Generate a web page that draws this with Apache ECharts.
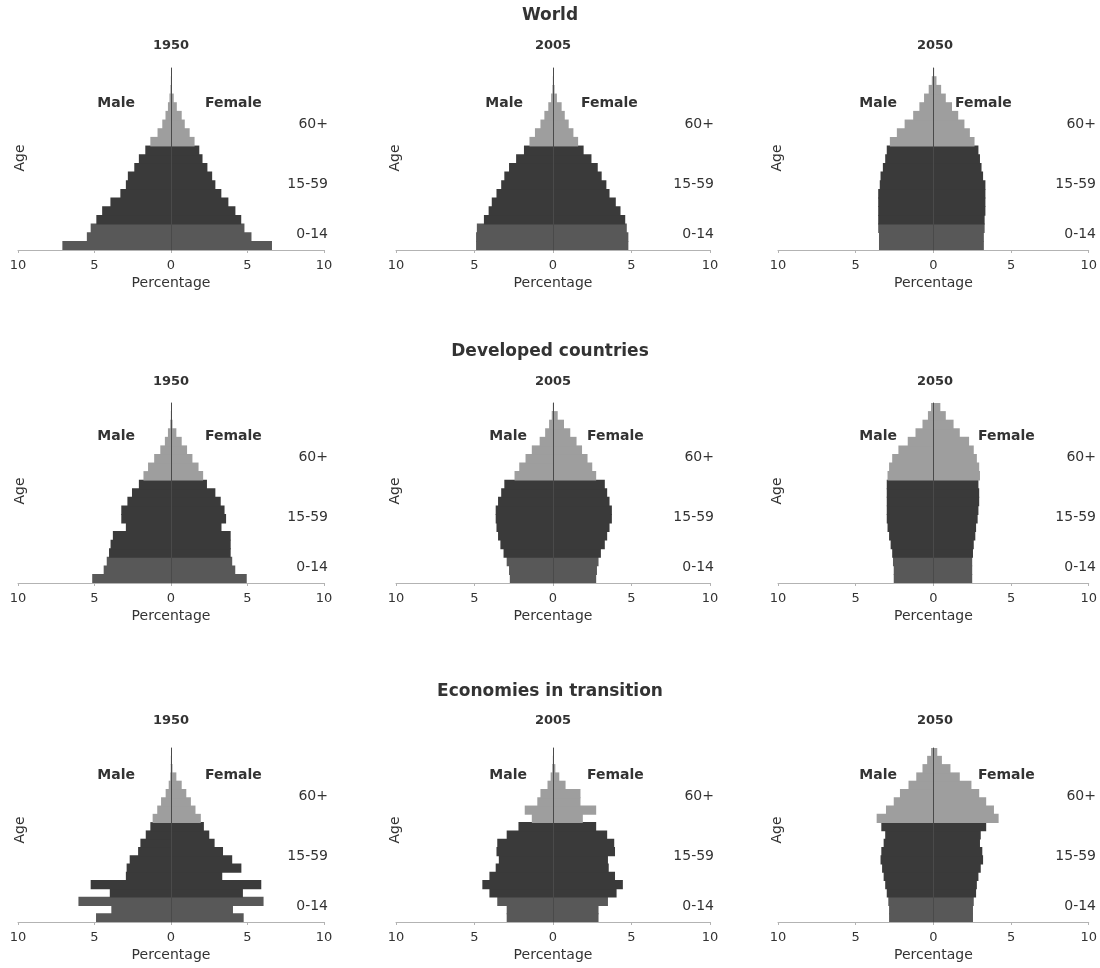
<!DOCTYPE html>
<html>
<head>
<meta charset="utf-8">
<script src="https://cdn.jsdelivr.net/npm/echarts@6.0.0/dist/echarts.min.js"></script>
<style>
html,body{margin:0;padding:0;background:#fff;}
#chart{width:1100px;height:968px;}
</style>
</head>
<body>
<div id="chart"></div>
<script>
// ---------------- DATA ----------------
const ageGroups = ['0-4','5-9','10-14','15-19','20-24','25-29','30-34','35-39','40-44','45-49',
  '50-54','55-59','60-64','65-69','70-74','75-79','80-84','85-89','90-94','95-99','100+'];
const regionNames = ['World', 'Developed countries', 'Economies in transition'];
const yearNames = ['1950', '2005', '2050'];
const bandNames = ['0-14', '15-59', '60+'];
const sexNames = ['Male', 'Female'];
const axisTitleX = 'Percentage';
const axisTitleY = 'Age';

// percentages, youngest group first
const worldMale1950   = [7.1, 5.5, 5.25, 4.88, 4.5, 3.96, 3.31, 2.95, 2.82, 2.4, 2.1, 1.68, 1.35, 0.88, 0.57, 0.36, 0.2, 0.1, 0.04, 0.01, 0.0];
const worldFemale1950 = [6.6, 5.26, 4.8, 4.59, 4.21, 3.75, 3.29, 2.9, 2.69, 2.38, 2.06, 1.85, 1.54, 1.22, 0.9, 0.7, 0.38, 0.18, 0.06, 0.02, 0.0];
const worldMale2005   = [4.9, 4.9, 4.85, 4.4, 4.1, 3.9, 3.6, 3.3, 3.1, 2.8, 2.35, 1.85, 1.5, 1.15, 0.8, 0.55, 0.3, 0.12, 0.04, 0.01, 0.0];
const worldFemale2005 = [4.8, 4.8, 4.7, 4.6, 4.3, 4.0, 3.6, 3.4, 3.1, 2.85, 2.45, 1.95, 1.6, 1.3, 1.0, 0.75, 0.55, 0.25, 0.1, 0.03, 0.01];
const worldMale2050   = [3.5, 3.5, 3.55, 3.55, 3.55, 3.55, 3.55, 3.45, 3.4, 3.25, 3.1, 3.0, 2.8, 2.35, 1.85, 1.3, 0.9, 0.6, 0.3, 0.1, 0.02];
const worldFemale2050 = [3.25, 3.25, 3.3, 3.3, 3.35, 3.35, 3.35, 3.35, 3.2, 3.1, 3.0, 2.9, 2.65, 2.35, 2.0, 1.6, 1.2, 0.8, 0.5, 0.2, 0.05];

const devMale1950   = [5.15, 4.4, 4.2, 4.05, 3.95, 3.8, 2.95, 3.25, 3.25, 2.85, 2.55, 2.1, 1.8, 1.5, 1.1, 0.7, 0.4, 0.2, 0.05, 0.01, 0.0];
const devFemale1950 = [4.95, 4.2, 4.0, 3.9, 3.9, 3.9, 3.3, 3.6, 3.5, 3.25, 2.9, 2.35, 2.1, 1.8, 1.4, 1.05, 0.7, 0.35, 0.1, 0.03, 0.01];
const devMale2005   = [2.75, 2.8, 2.95, 3.15, 3.35, 3.5, 3.6, 3.65, 3.65, 3.5, 3.3, 3.1, 2.45, 2.15, 1.75, 1.35, 0.85, 0.5, 0.25, 0.08, 0.01];
const devFemale2005 = [2.75, 2.8, 2.9, 3.05, 3.3, 3.45, 3.6, 3.75, 3.75, 3.6, 3.45, 3.3, 2.75, 2.5, 2.2, 1.85, 1.5, 1.1, 0.7, 0.3, 0.05];
const devMale2050   = [2.55, 2.55, 2.6, 2.65, 2.75, 2.85, 2.95, 3.0, 3.0, 3.0, 3.0, 3.0, 2.95, 2.85, 2.65, 2.25, 1.65, 1.15, 0.7, 0.35, 0.15];
const devFemale2050 = [2.5, 2.5, 2.5, 2.55, 2.6, 2.7, 2.75, 2.85, 2.9, 2.95, 2.95, 2.9, 3.0, 2.95, 2.8, 2.6, 2.3, 1.7, 1.3, 0.8, 0.45];

const ecoMale1950   = [4.9, 3.9, 6.05, 4.0, 5.25, 2.95, 2.9, 2.7, 2.15, 2.0, 1.65, 1.35, 1.2, 0.9, 0.65, 0.35, 0.15, 0.05, 0.02, 0.01, 0.0];
const ecoFemale1950 = [4.75, 4.05, 6.05, 4.7, 5.9, 3.35, 4.6, 4.0, 3.4, 2.85, 2.5, 2.15, 1.95, 1.6, 1.3, 1.0, 0.7, 0.35, 0.1, 0.03, 0.01];
const ecoMale2005   = [2.95, 2.95, 3.55, 4.05, 4.5, 4.05, 3.65, 3.45, 3.6, 3.55, 2.95, 2.2, 1.35, 1.8, 1.0, 0.8, 0.35, 0.15, 0.05, 0.01, 0.0];
const ecoFemale2005 = [2.9, 2.9, 3.5, 4.05, 4.45, 3.95, 3.55, 3.5, 3.95, 3.9, 3.45, 2.75, 1.9, 2.75, 1.75, 1.75, 0.8, 0.4, 0.15, 0.05, 0.01];
const ecoMale2050   = [2.85, 2.85, 2.9, 3.0, 3.1, 3.2, 3.3, 3.4, 3.35, 3.2, 3.1, 3.35, 3.65, 3.05, 2.55, 2.15, 1.6, 1.1, 0.7, 0.4, 0.15];
const ecoFemale2050 = [2.55, 2.55, 2.6, 2.75, 2.8, 2.9, 3.05, 3.2, 3.15, 3.0, 3.05, 3.4, 4.2, 3.9, 3.4, 2.95, 2.45, 1.7, 1.1, 0.55, 0.25];

const maleData = [
  [worldMale1950, worldMale2005, worldMale2050],
  [devMale1950, devMale2005, devMale2050],
  [ecoMale1950, ecoMale2005, ecoMale2050]
];
const femaleData = [
  [worldFemale1950, worldFemale2005, worldFemale2050],
  [devFemale1950, devFemale2005, devFemale2050],
  [ecoFemale1950, ecoFemale2005, ecoFemale2050]
];

// ---------------- LAYOUT / STYLE ----------------
const FONT = 'DejaVu Sans';
const TXT = '#333333';
const C_YOUNG = '#585858';
const C_ADULT = '#3a3a3a';
const C_OLD = '#9e9e9e';
const colLeft = [18, 396, 778];
const colWidth = [306, 314, 314];
const rowTop = [68, 403, 748];
const rowHeight = [182, 180, 174];
const rowTitleY = [16, 352, 692];
const yearY = [46, 382, 721];
const maleOff = [[-36, -30, -38], [-36, -26, -38], [-36, -26, -38]];
const femaleOff = [[34, 28, 20], [34, 34, 43], [34, 34, 43]];
const ageX = [20, 395, 777];

function colorOf(idx) {
  return idx < 3 ? C_YOUNG : (idx < 12 ? C_ADULT : C_OLD);
}
function toItems(arr, sign) {
  return arr.map((v, idx) => ({
    value: sign * v,
    itemStyle: {color: colorOf(idx)}
  }));
}

const grids = [], xAxes = [], yAxes = [], series = [], titles = [], graphics = [];

function addTitle(text, x, y, align, size, weight) {
  titles.push({
    text: text, left: x, top: y, textAlign: align, textVerticalAlign: 'middle', padding: 0,
    textStyle: {fontFamily: FONT, fontSize: size, fontWeight: weight, color: TXT}
  });
}

for (let r = 0; r < 3; r++) {
  addTitle(regionNames[r], 550, rowTitleY[r], 'center', 17, 'bold');
  for (let c = 0; c < 3; c++) {
    const i = r * 3 + c;
    const left = colLeft[c], w = colWidth[c], top = rowTop[r], h = rowHeight[r];
    const zeroX = left + w / 2;
    const axisY = top + h;
    const bw = h / ageGroups.length + 0.9;
    grids.push({left: left, top: top, width: w, height: h, containLabel: false});
    xAxes.push({
      gridIndex: i, type: 'value', min: -10, max: 10, interval: 5,
      axisLine: {show: true, onZero: false, lineStyle: {color: '#b3b3b3', width: 1}},
      axisTick: {show: true, length: 3, lineStyle: {color: '#b3b3b3'}},
      splitLine: {show: false},
      axisLabel: {fontFamily: FONT, fontSize: 13, color: TXT, margin: 9, showMinLabel: true, showMaxLabel: true,
        formatter: v => String(Math.abs(v))},
      name: axisTitleX, nameLocation: 'middle', nameGap: 26,
      nameTextStyle: {fontFamily: FONT, fontSize: 14, color: TXT}
    });
    yAxes.push({
      gridIndex: i, type: 'category', data: ageGroups, z: 5,
      axisLine: {show: true, onZero: true, lineStyle: {color: '#4a4a4a', width: 1}},
      axisTick: {show: false}, axisLabel: {show: false}, splitLine: {show: false}
    });
    series.push({
      type: 'bar', name: sexNames[0], xAxisIndex: i, yAxisIndex: i, stack: 'p' + i,
      barWidth: bw, data: toItems(maleData[r][c], -1), silent: true
    });
    series.push({
      type: 'bar', name: sexNames[1], xAxisIndex: i, yAxisIndex: i, stack: 'p' + i,
      barWidth: bw, data: toItems(femaleData[r][c], 1), silent: true
    });
    addTitle(yearNames[c], zeroX, yearY[r], 'center', 13, 'bold');
    addTitle(sexNames[0], zeroX + maleOff[r][c], axisY - 147, 'right', 14, 'bold');
    addTitle(sexNames[1], zeroX + femaleOff[r][c], axisY - 147, 'left', 14, 'bold');
    const bandOff = [-16, -66, -126];
    for (let b = 0; b < 3; b++) {
      addTitle(bandNames[b], left + w + 4, axisY + bandOff[b], 'right', 14, 'normal');
    }
    graphics.push({
      type: 'text', x: ageX[c], y: axisY - 92, rotation: Math.PI / 2,
      style: {text: axisTitleY, font: '14px "DejaVu Sans"', fill: TXT,
        align: 'center', verticalAlign: 'middle', textAlign: 'center', textVerticalAlign: 'middle'}
    });
  }
}

const chart = echarts.init(document.getElementById('chart'), null, {renderer: 'canvas'});
chart.setOption({
  animation: false,
  backgroundColor: '#ffffff',
  title: titles,
  grid: grids,
  xAxis: xAxes,
  yAxis: yAxes,
  series: series,
  graphic: graphics
});
</script>
</body>
</html>
